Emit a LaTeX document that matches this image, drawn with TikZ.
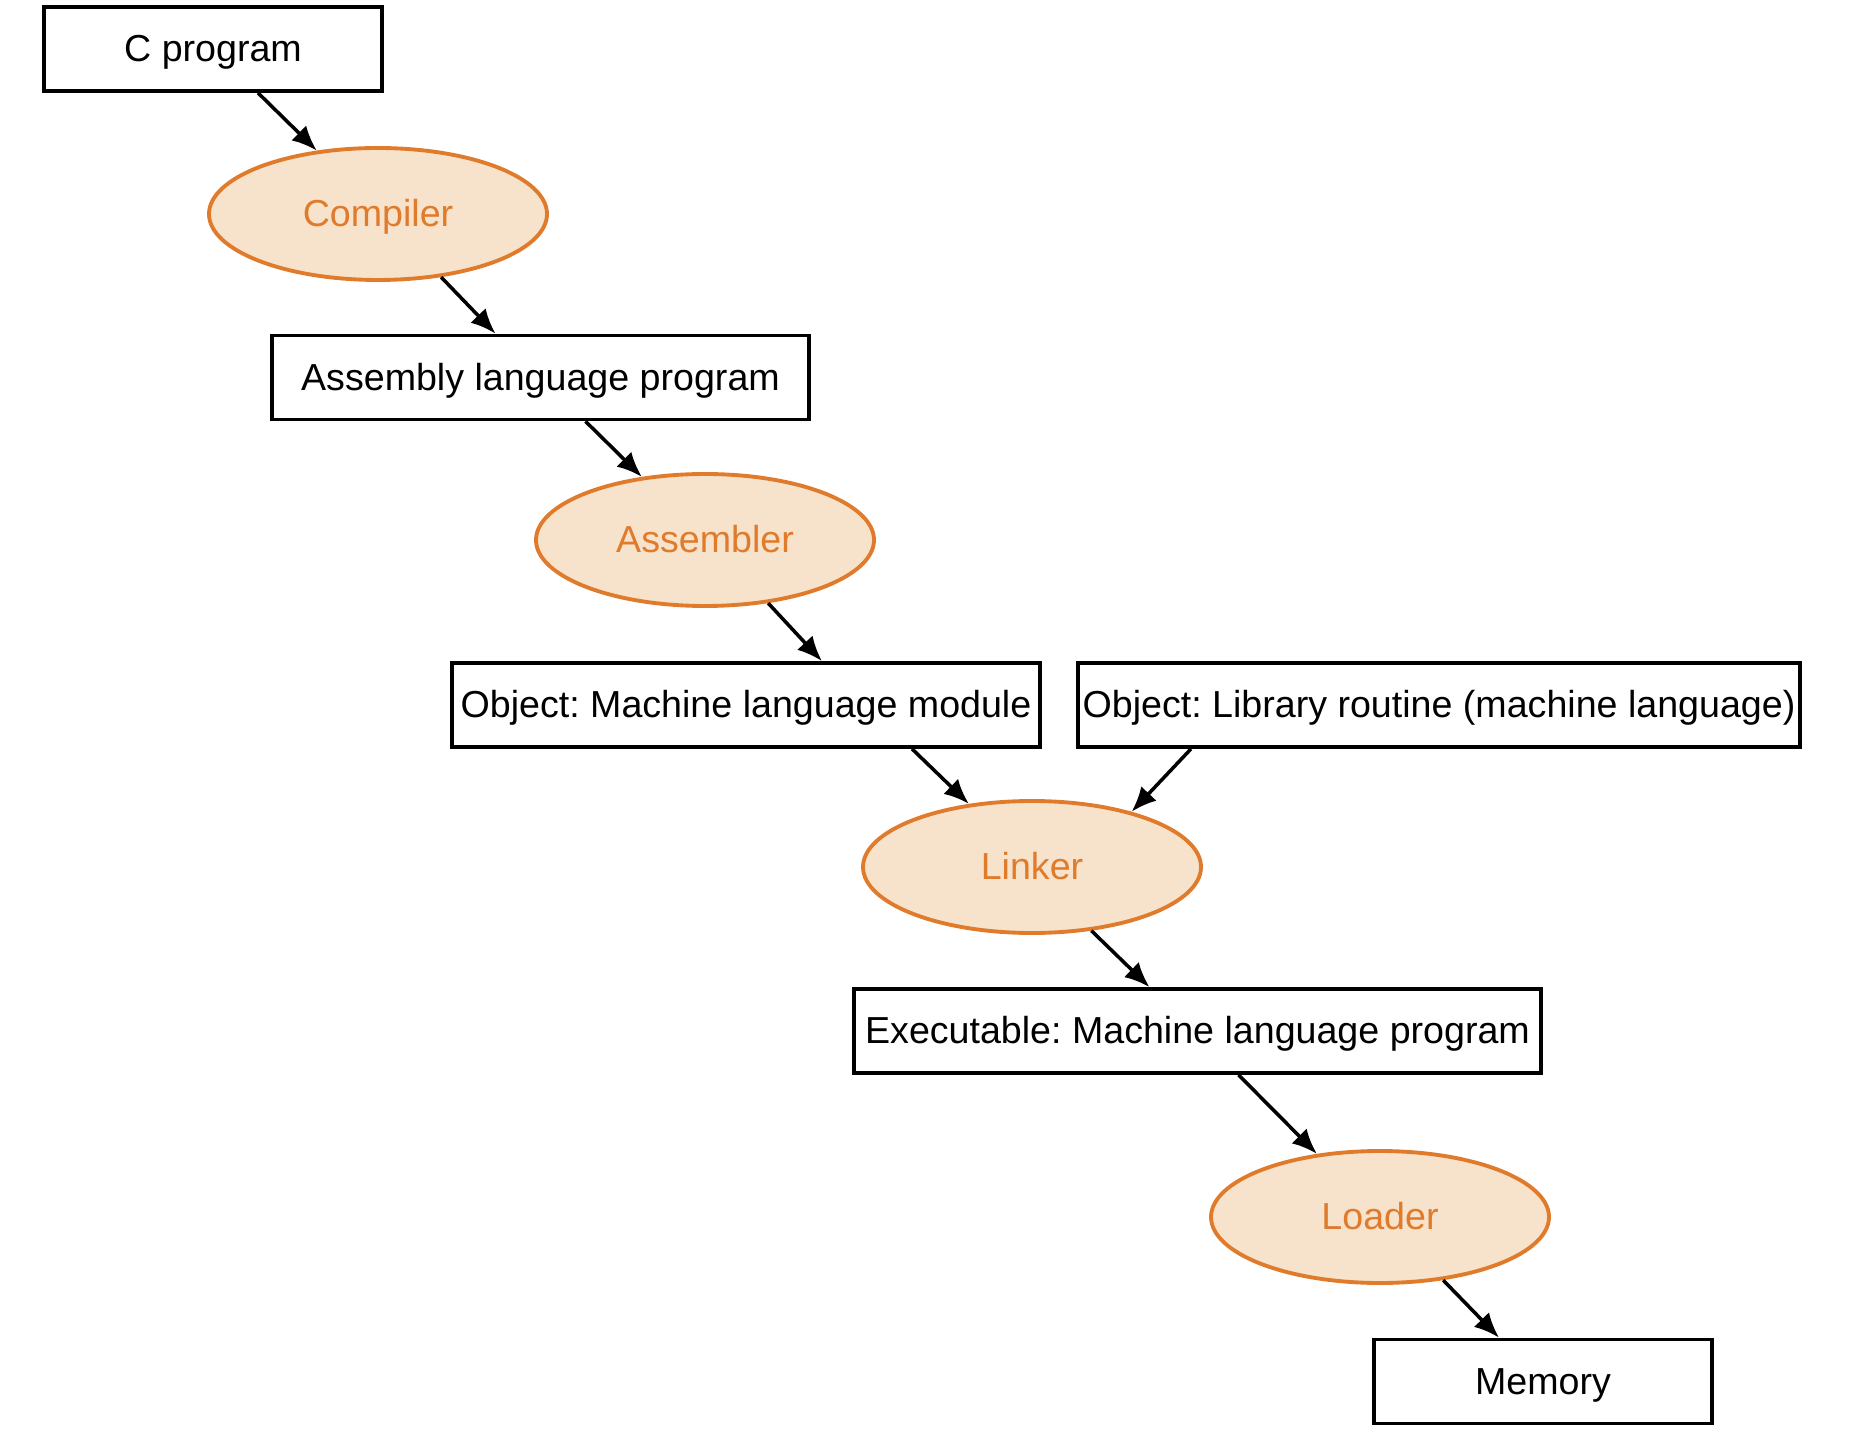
\documentclass[tikz,border=0pt]{standalone}
\usepackage{fontspec}
\setmainfont{Liberation Sans}
\usepackage{tikz}
\usetikzlibrary{shapes.geometric, arrows.meta}
\frenchspacing

\definecolor{procline}{HTML}{E07B2C}
\definecolor{procfill}{HTML}{F7E2CB}

\tikzset{
  box/.style={draw, line width=1.05pt, inner sep=0pt, minimum height=0.84cm,
    text height=0.716em, text depth=0pt},
  proc/.style={ellipse, draw=procline, fill=procfill, text=procline, line width=1.1pt,
    inner sep=0pt, minimum width=3.38cm, minimum height=1.32cm,
    text height=0.716em, text depth=0pt},
  flow/.style={line width=1pt, -{Latex[length=2.5mm,width=2.1mm]}}
}

\begin{document}
\begin{tikzpicture}[font=\fontsize{10.7}{12.8}\selectfont]
\useasboundingbox (0,0) rectangle (18.62,-14.44);
\node[box, minimum width=3.38cm] (cprog) at (2.13,-0.49) {C program};
\node[proc] (comp) at (3.78,-2.14) {Compiler};
\node[box, minimum width=5.37cm] (asm) at (5.405,-3.775) {Assembly language program};
\node[proc] (asmr) at (7.05,-5.40) {Assembler};
\node[box, minimum width=5.88cm] (objm) at (7.46,-7.05) {Object: Machine language module};
\node[box, minimum width=7.22cm] (lib) at (14.39,-7.05) {Object: Library routine (machine language)};
\node[proc] (link) at (10.32,-8.67) {Linker};
\node[box, minimum width=6.87cm] (exe) at (11.975,-10.31) {Executable: Machine language program};
\node[proc] (load) at (13.80,-12.17) {Loader};
\node[box, minimum width=3.38cm] (mem) at (15.43,-13.815) {Memory};

\draw[flow] ([xshift=0.45cm]cprog.south) -- (comp.134);
\draw[flow] (comp.-45) -- ([xshift=-0.45cm]asm.north);
\draw[flow] ([xshift=0.45cm]asm.south) -- (asmr.135);
\draw[flow] (asmr.-45) -- ([xshift=0.76cm]objm.north);
\draw[flow] ([xshift=1.66cm]objm.south) -- (link.135);
\draw[flow] ([xshift=-2.48cm]lib.south) -- (link.29);
\draw[flow] (link.-47) -- ([xshift=-0.48cm]exe.north);
\draw[flow] ([xshift=0.41cm]exe.south) -- (load.135);
\draw[flow] (load.-45) -- ([xshift=-0.44cm]mem.north);
\end{tikzpicture}
\end{document}
